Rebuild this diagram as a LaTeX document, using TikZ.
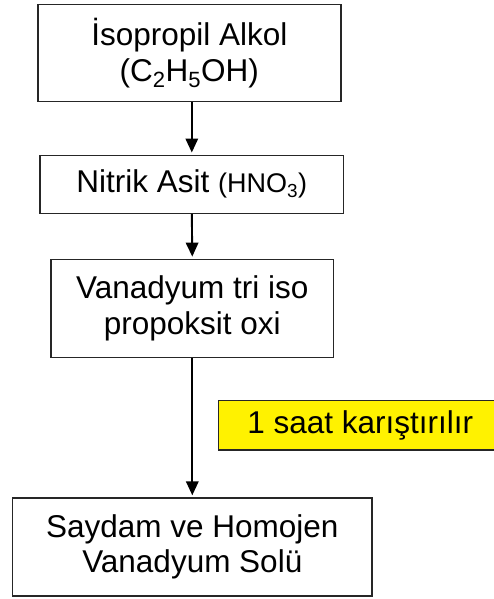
\documentclass[tikz,border=0pt]{standalone}
\usepackage{fontspec}
\setmainfont{Liberation Sans}
\usetikzlibrary{arrows.meta}
\tikzset{
  stepbox/.style={draw=black!85, line width=1.4pt, inner sep=0pt, align=center,
    font=\fontsize{31.5}{35.5}\selectfont},
  notebox/.style={stepbox, fill=yellow, inner xsep=29pt, inner ysep=0pt, anchor=west},
  flow/.style={line width=1.9pt, shorten >=2pt, -{Triangle[length=14pt,width=12.5pt]}}
}
\begin{document}
\begin{tikzpicture}[x=1pt, y=-1pt]
	\clip (0,0) rectangle (494,599);
	\node[stepbox, minimum width=303pt, minimum height=97pt] (alkol) at (189.3,53)
		{İsopropil Alkol\\(C\textsubscript{2}H\textsubscript{5}OH)};
	\node[stepbox, minimum width=303.7pt, minimum height=58pt] (nitrik) at (191.8,184.2)
		{Nitrik Asit {\fontsize{27}{30}\selectfont(HNO\textsubscript{3})}};
	\node[stepbox, minimum width=282.7pt, minimum height=98pt] (vanadyum) at (192.3,308.3)
		{Vanadyum tri iso\\propoksit oxi};
	\node[stepbox, minimum width=359.3pt, minimum height=98pt] (sol) at (192.3,547)
		{Saydam ve Homojen\\Vanadyum Solü};
	\node[notebox, minimum height=49.3pt] (karis) at (217.7,425.3) {1 saat karıştırılır};
	% oklar
	\draw[flow] (alkol.south -| nitrik.north) -- (nitrik.north);
	\draw[flow] (nitrik.south) -- (vanadyum.north);
	\draw[flow] (vanadyum.south) -- (sol.north);
\end{tikzpicture}
\end{document}
